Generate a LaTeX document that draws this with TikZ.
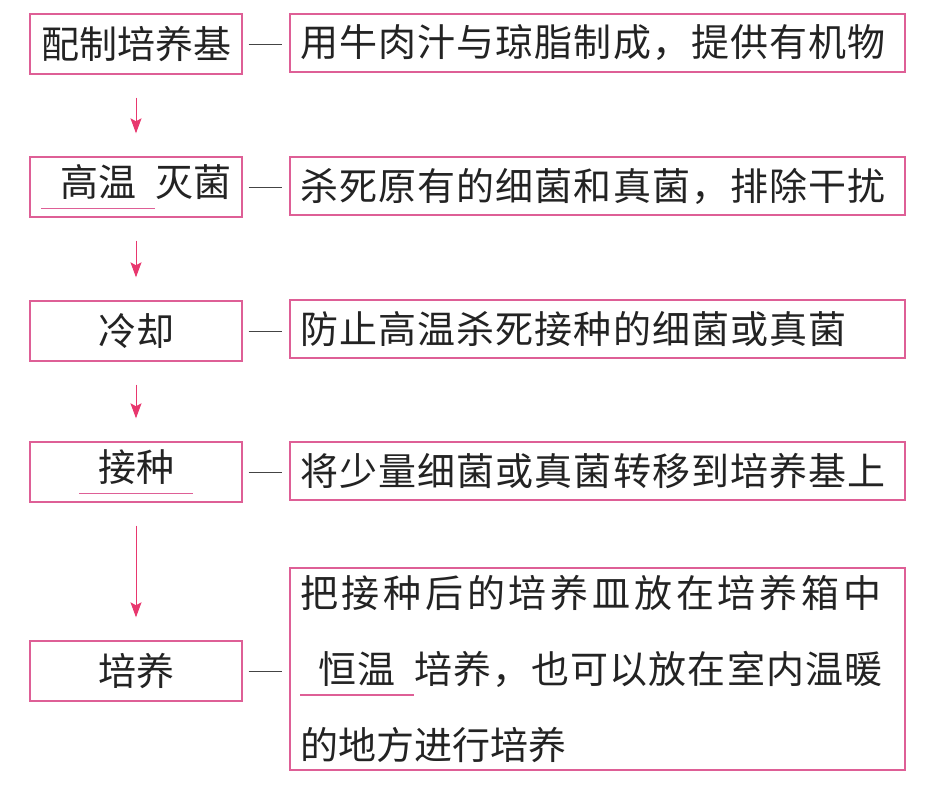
\documentclass[tikz,border=0pt]{standalone}
\usepackage{fontspec}
\setmainfont{Noto Sans CJK SC}
\usetikzlibrary{arrows.meta}
\definecolor{boxpink}{RGB}{222,95,150}
\definecolor{arrowpink}{RGB}{232,55,110}
\definecolor{inkgray}{RGB}{35,35,35}
% a blank to fill in, underlined in pink
\newcommand{\fillin}[1]{\makebox[3em]{\rlap{\color{boxpink}\rule[-0.32em]{3em}{1.3pt}}\hfill#1\hfill}}
\tikzset{
  stepbox/.style={draw=boxpink,line width=1.4pt,minimum width=212pt,minimum height=60pt,inner sep=0pt},
  notebox/.style={draw=boxpink,line width=1.4pt,text width=595pt,inner xsep=10pt,inner ysep=0pt,minimum height=58pt,align=left},
  flow/.style={arrowpink,line width=1pt,-{Stealth[length=15pt,width=11pt,inset=3pt]},shorten <=23pt,shorten >=23pt},
  tie/.style={inkgray!85,line width=1pt,shorten <=6pt,shorten >=7pt}
}

\begin{document}
\begin{tikzpicture}[x=1pt,y=-1pt,font=\fontsize{38}{46}\selectfont,text=inkgray]
    \useasboundingbox (0,0) rectangle (939,788);

    % steps on the left
    \node[stepbox] (l1) at (136,44) {配制培养基};
    \node[stepbox] (l2) at (136,187) {\fillin{高温}灭菌};
    \node[stepbox] (l3) at (136,331) {冷却};
    \node[stepbox] (l4) at (136,472) {\fillin{接种}};
    \node[stepbox] (l5) at (136,671) {培养};

    % notes on the right
    \node[notebox] (r1) at (597.5,43) {\addfontfeature{LetterSpace=3}用牛肉汁与琼脂制成，提供有机物};
    \node[notebox] (r2) at (597.5,186) {\addfontfeature{LetterSpace=3}杀死原有的细菌和真菌，排除干扰};
    \node[notebox] (r3) at (597.5,329) {\addfontfeature{LetterSpace=3}防止高温杀死接种的细菌或真菌};
    \node[notebox] (r4) at (597.5,471) {\addfontfeature{LetterSpace=3}将少量细菌或真菌转移到培养基上};
    \node[notebox,minimum height=202pt,font=\fontsize{38}{76}\selectfont] (r5) at (597.5,669)
      {{\addfontfeature{LetterSpace=10}把接种后的培养皿放在培养箱中}\\
       {\addfontfeature{LetterSpace=3}\fillin{恒温}培养，也可以放在室内温暖}\\
       的地方进行培养};

    \foreach \a/\b in {l1/l2,l2/l3,l3/l4,l4/l5}
      \draw[flow] (\a.south) -- (\b.north);% step to step
    \foreach \i in {1,...,5}
      \draw[tie] (l\i.east) -- (l\i.east -| r\i.west);% step to note
\end{tikzpicture}
\end{document}
